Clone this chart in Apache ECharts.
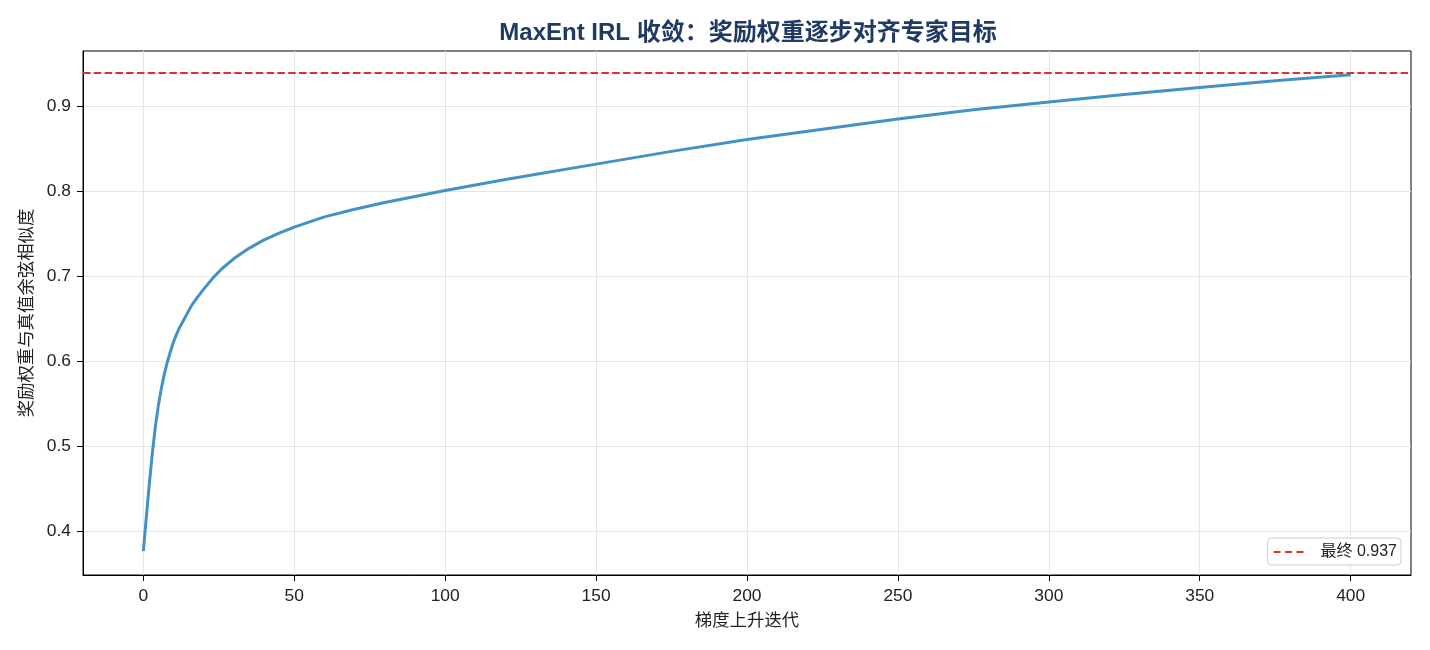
<!DOCTYPE html>
<html>
<head>
<meta charset="utf-8">
<script src="https://cdn.jsdelivr.net/npm/echarts@6/dist/echarts.min.js"></script>
<style>
  html, body { margin: 0; padding: 0; background: #fff; }
  #main { width: 1430px; height: 650px; }
</style>
</head>
<body>
<div id="main"></div>
<script>
// 梯度上升迭代 / 余弦相似度
const iters = [0, 1, 2, 3, 4, 5, 6, 7, 8, 9, 10, 11, 12, 14, 16, 18, 20, 23, 26, 30, 35, 40, 45, 50, 60, 70, 80, 90, 100, 120, 150, 175, 200, 225, 250, 275, 300, 325, 350, 375, 400]
const cosSim = [0.377, 0.418, 0.457, 0.493, 0.524, 0.549, 0.569, 0.586, 0.600, 0.612, 0.623, 0.632, 0.640, 0.653, 0.666, 0.676, 0.685, 0.698, 0.709, 0.721, 0.733, 0.743, 0.751, 0.758, 0.770, 0.779, 0.787, 0.794, 0.801, 0.814, 0.832, 0.847, 0.861, 0.873, 0.885, 0.896, 0.905, 0.914, 0.922, 0.930, 0.937]
const xTicks = [0, 50, 100, 150, 200, 250, 300, 350, 400]
const yTicks = [0.4, 0.5, 0.6, 0.7, 0.8, 0.9]

const finalValue = cosSim[cosSim.length - 1]
const font = '"Liberation Sans", "Noto Sans CJK SC", sans-serif'

// matplotlib 风格的 5% 边距
const yLo = Math.min(...cosSim), yHi = Math.max(...cosSim)
const xPad = (iters[iters.length - 1] - iters[0]) * 0.05
const yPad = (yHi - yLo) * 0.05

const red = '#e0302a'
const blue = '#4292c6'

const chart = echarts.init(document.getElementById('main'))

const option = {
  animation: false,
  textStyle: { fontFamily: font },
  title: {
    text: 'MaxEnt IRL 收敛：奖励权重逐步对齐专家目标',
    left: 748,
    top: 21,
    padding: 0,
    textAlign: 'center',
    textStyle: {
      fontFamily: font,
      fontSize: 24,
      fontWeight: 'bold',
      color: '#1f3b63'
    }
  },
  grid: {
    left: 83,
    right: 19,
    top: 51,
    bottom: 75,
    show: true,
    borderColor: '#000',
    borderWidth: 1,
    containLabel: false
  },
  legend: {
    right: 29,
    bottom: 85,
    orient: 'vertical',
    itemWidth: 30,
    itemHeight: 2,
    padding: [6, 4, 5, 6],
    borderColor: '#cccccc',
    borderWidth: 1,
    borderRadius: 4,
    backgroundColor: 'rgba(255,255,255,0.9)',
    textStyle: { fontFamily: font, fontSize: 16, color: '#222', padding: [0, 0, 0, 12] },
    data: [{
      name: '最终 ' + finalValue.toFixed(3),
      icon: 'path://M0,0h7v2h-7zM11.5,0h7v2h-7zM23,0h7v2h-7z',
      itemStyle: { color: red }
    }]
  },
  xAxis: {
    type: 'value',
    min: iters[0] - xPad,
    max: iters[iters.length - 1] + xPad,
    name: '梯度上升迭代',
    nameLocation: 'middle',
    nameGap: 38,
    nameTextStyle: { fontFamily: font, fontSize: 17.4, color: '#222' },
    axisLine: { show: true, onZero: false, lineStyle: { color: '#000', width: 1 } },
    axisTick: { show: true, inside: false, length: 6, customValues: xTicks, lineStyle: { color: '#000' } },
    axisLabel: { customValues: xTicks, margin: 13, fontSize: 17.4, color: '#222', fontFamily: font },
    splitLine: { show: true, lineStyle: { color: '#e6e6e6', width: 1 } }
  },
  yAxis: {
    type: 'value',
    min: yLo - yPad,
    max: yHi + yPad,
    name: '奖励权重与真值余弦相似度',
    nameLocation: 'middle',
    nameGap: 47,
    nameTextStyle: { fontFamily: font, fontSize: 17.4, color: '#222' },
    axisLine: { show: true, onZero: false, lineStyle: { color: '#000', width: 1 } },
    axisTick: { show: true, inside: false, length: 6, customValues: yTicks, lineStyle: { color: '#000' } },
    axisLabel: {
      customValues: yTicks,
      margin: 12,
      fontSize: 17.4,
      color: '#222',
      fontFamily: font,
      formatter: v => v.toFixed(1)
    },
    splitLine: { show: true, lineStyle: { color: '#e6e6e6', width: 1 } }
  },
  series: [
    {
      name: '相似度',
      type: 'line',
      data: iters.map((x, i) => [x, cosSim[i]]),
      smooth: false,
      showSymbol: false,
      symbol: 'none',
      lineStyle: { color: blue, width: 3, cap: 'butt', join: 'round' },
      itemStyle: { color: blue },
      z: 3
    },
    {
      name: '最终 ' + finalValue.toFixed(3),
      type: 'line',
      data: [],
      symbol: 'none',
      lineStyle: { color: red, width: 2, type: [7.5, 3.3] },
      itemStyle: { color: red },
      markLine: {
        silent: true,
        symbol: 'none',
        label: { show: false },
        lineStyle: { color: red, width: 2, type: [7.5, 3.3] },
        data: [{ yAxis: finalValue }]
      },
      z: 2
    }
  ]
}

chart.setOption(option)
</script>
</body>
</html>
